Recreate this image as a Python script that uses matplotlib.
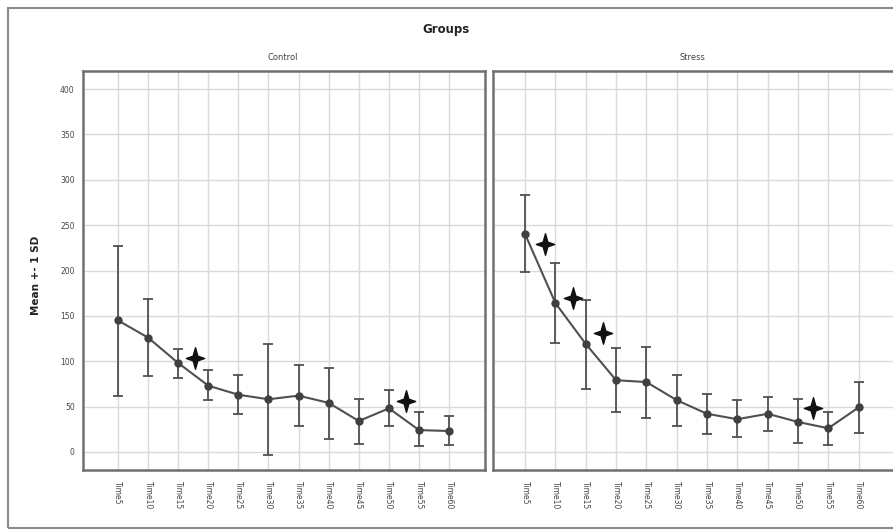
import matplotlib
matplotlib.use("Agg")
import matplotlib.pyplot as plt
from matplotlib.patches import Rectangle
from matplotlib.path import Path

categories = ["Time5", "Time10", "Time15", "Time20", "Time25", "Time30",
              "Time35", "Time40", "Time45", "Time50", "Time55", "Time60"]
groups = ["Control", "Stress"]

control_mean = [145, 126, 98, 73, 63, 58, 62, 54, 34, 48, 24, 23]
control_upper = [227, 169, 113, 90, 85, 119, 96, 93, 58, 68, 44, 39]
control_lower = [62, 84, 82, 57, 42, -3, 28, 14, 9, 28, 7, 8]

stress_mean = [240, 164, 119, 79, 77, 57, 42, 36, 42, 33, 26, 49]
stress_upper = [283, 208, 167, 114, 116, 85, 64, 57, 61, 58, 44, 77]
stress_lower = [198, 120, 69, 44, 37, 28, 20, 16, 23, 10, 8, 21]

control_star_x = [2.55, 9.55]
control_star_y = [103, 56]
stress_star_x = [0.65, 1.57, 2.58, 9.5]
stress_star_y = [229, 170, 131, 48]

yticks = [0, 50, 100, 150, 200, 250, 300, 350, 400]

# four-pointed star marker
r_in = 0.22
hw = 0.85
star_verts = [(0, 1), (r_in, r_in), (hw, 0), (r_in, -r_in), (0, -1),
              (-r_in, -r_in), (-hw, 0), (-r_in, r_in), (0, 1)]
star_codes = [Path.MOVETO] + [Path.LINETO] * 7 + [Path.CLOSEPOLY]
star_marker = Path(star_verts, star_codes)

W, H = 893, 531
fig = plt.figure(figsize=(W / 100, H / 100), dpi=100)
fig.patch.set_facecolor("white")

fig.patches.append(Rectangle((8 / W, 3 / H), 900 / W, 520 / H, transform=fig.transFigure,
                             fill=False, edgecolor="#8a8a8a", linewidth=1.5))

def fx(px):
    return px / W

def fy(py):
    return 1 - py / H

top, bottom = 71, 470
ax1 = fig.add_axes([fx(83), fy(bottom), fx(485 - 83), (bottom - top) / H])
ax2 = fig.add_axes([fx(493), fy(bottom), fx(898 - 493), (bottom - top) / H])

panels = [
    (ax1, control_mean, control_upper, control_lower, control_star_x, control_star_y, (-1.16, 12.19)),
    (ax2, stress_mean, stress_upper, stress_lower, stress_star_x, stress_star_y, (-1.06, 12.3)),
]

x = list(range(len(categories)))
for ax, m, up, lo, sx, sy, xl in panels:
    ax.set_xlim(*xl)
    ax.set_ylim(-20, 420)
    ax.set_xticks(x)
    ax.set_yticks(yticks)
    ax.grid(True, color="#dadada", linewidth=1.0)
    ax.set_axisbelow(True)
    yerr = [[mi - li for mi, li in zip(m, lo)], [ui - mi for mi, ui in zip(m, up)]]
    ax.errorbar(x, m, yerr=yerr, fmt="o-", color="#505050", ecolor="#505050",
                markersize=5, linewidth=1.5, elinewidth=1.3, capsize=3.5, capthick=1.3,
                markerfacecolor="#404040", markeredgecolor="#404040")
    ax.plot(sx, sy, linestyle="none", marker=star_marker, markersize=15.5,
            color="#111111")
    for s in ax.spines.values():
        s.set_color("#707070")
        s.set_linewidth(1.8)
    ax.tick_params(axis="both", length=0, labelsize=5.5, labelcolor="#444444")
    ax.tick_params(axis="x", pad=8)
    ax.set_xticklabels(categories, rotation=270, fontsize=5.5)

ax2.set_yticklabels([])
ax1.tick_params(axis="y", pad=6)

fig.text(fx(446), fy(30), "Groups", ha="center", va="center", fontsize=8.5,
         fontweight="bold", color="#222222")
fig.text(fx(283), fy(58), "Control", ha="center", va="center", fontsize=6, color="#444444")
fig.text(fx(692), fy(58), "Stress", ha="center", va="center", fontsize=6, color="#444444")
fig.text(fx(36), fy(275), "Mean +- 1 SD", ha="center", va="center", rotation=90,
         fontsize=7.5, fontweight="bold", color="#222222")

fig.savefig("out.png", dpi=100, facecolor="white")
